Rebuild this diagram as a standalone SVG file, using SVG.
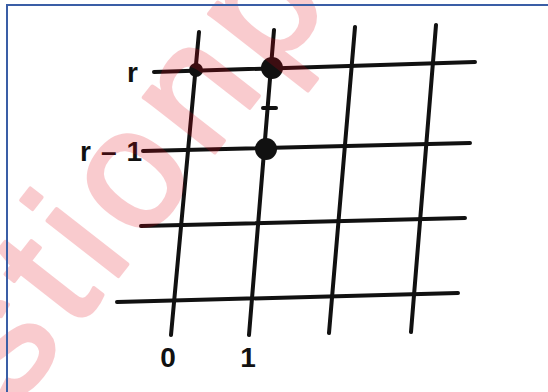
<svg xmlns="http://www.w3.org/2000/svg" width="548" height="392" viewBox="0 0 548 392">
  <style>
    .ln { stroke: #111; stroke-width: 4; stroke-linecap: round; fill: none; }
    .dot { fill: #111; }
    .lbl { font-family: "Liberation Sans", Arial, sans-serif; font-weight: bold; font-size: 28px; fill: #111; }
    .wm { font-family: "Liberation Sans", Arial, sans-serif; font-size: 170px; letter-spacing: 12px; fill: #e60012; stroke: #e60012; stroke-width: 4; stroke-linejoin: round; }
  </style>
  <rect width="548" height="392" fill="#ffffff"/>

  <g id="connectors">
    <line class="ln" x1="154" y1="72" x2="475" y2="62"/>
    <line class="ln" x1="143" y1="151" x2="470" y2="143"/>
    <line class="ln" x1="141" y1="226" x2="465" y2="218"/>
    <line class="ln" x1="117" y1="302" x2="458" y2="293"/>
    <line class="ln" x1="199" y1="32" x2="171" y2="335"/>
    <line class="ln" x1="274" y1="30" x2="249" y2="335"/>
    <line class="ln" x1="355" y1="27" x2="329" y2="333"/>
    <line class="ln" x1="436" y1="25" x2="411" y2="332"/>
    <line class="ln" x1="263" y1="108" x2="276" y2="108" stroke-width="3"/>
  </g>

  <g id="dot-0-r"><circle class="dot" cx="196" cy="70" r="7"/></g>
  <g id="dot-1-r"><circle class="dot" cx="272" cy="68" r="11"/></g>
  <g id="dot-1-r1"><circle class="dot" cx="266" cy="149" r="11"/></g>

  <g id="labels">
    <text class="lbl" x="127" y="82">r</text>
    <text class="lbl" x="80" y="161" textLength="62" lengthAdjust="spacing">r – 1</text>
    <text class="lbl" x="168" y="367" text-anchor="middle">0</text>
    <text class="lbl" x="248" y="367" text-anchor="middle">1</text>
  </g>

  <g id="watermark" opacity="0.2">
    <text class="wm" transform="translate(15,408) rotate(-52)">stionp</text>
  </g>

  <g id="border">
    <path d="M7,392 V5 H548" fill="none" stroke="#3a5ea6" stroke-width="2"/>
  </g>
</svg>
